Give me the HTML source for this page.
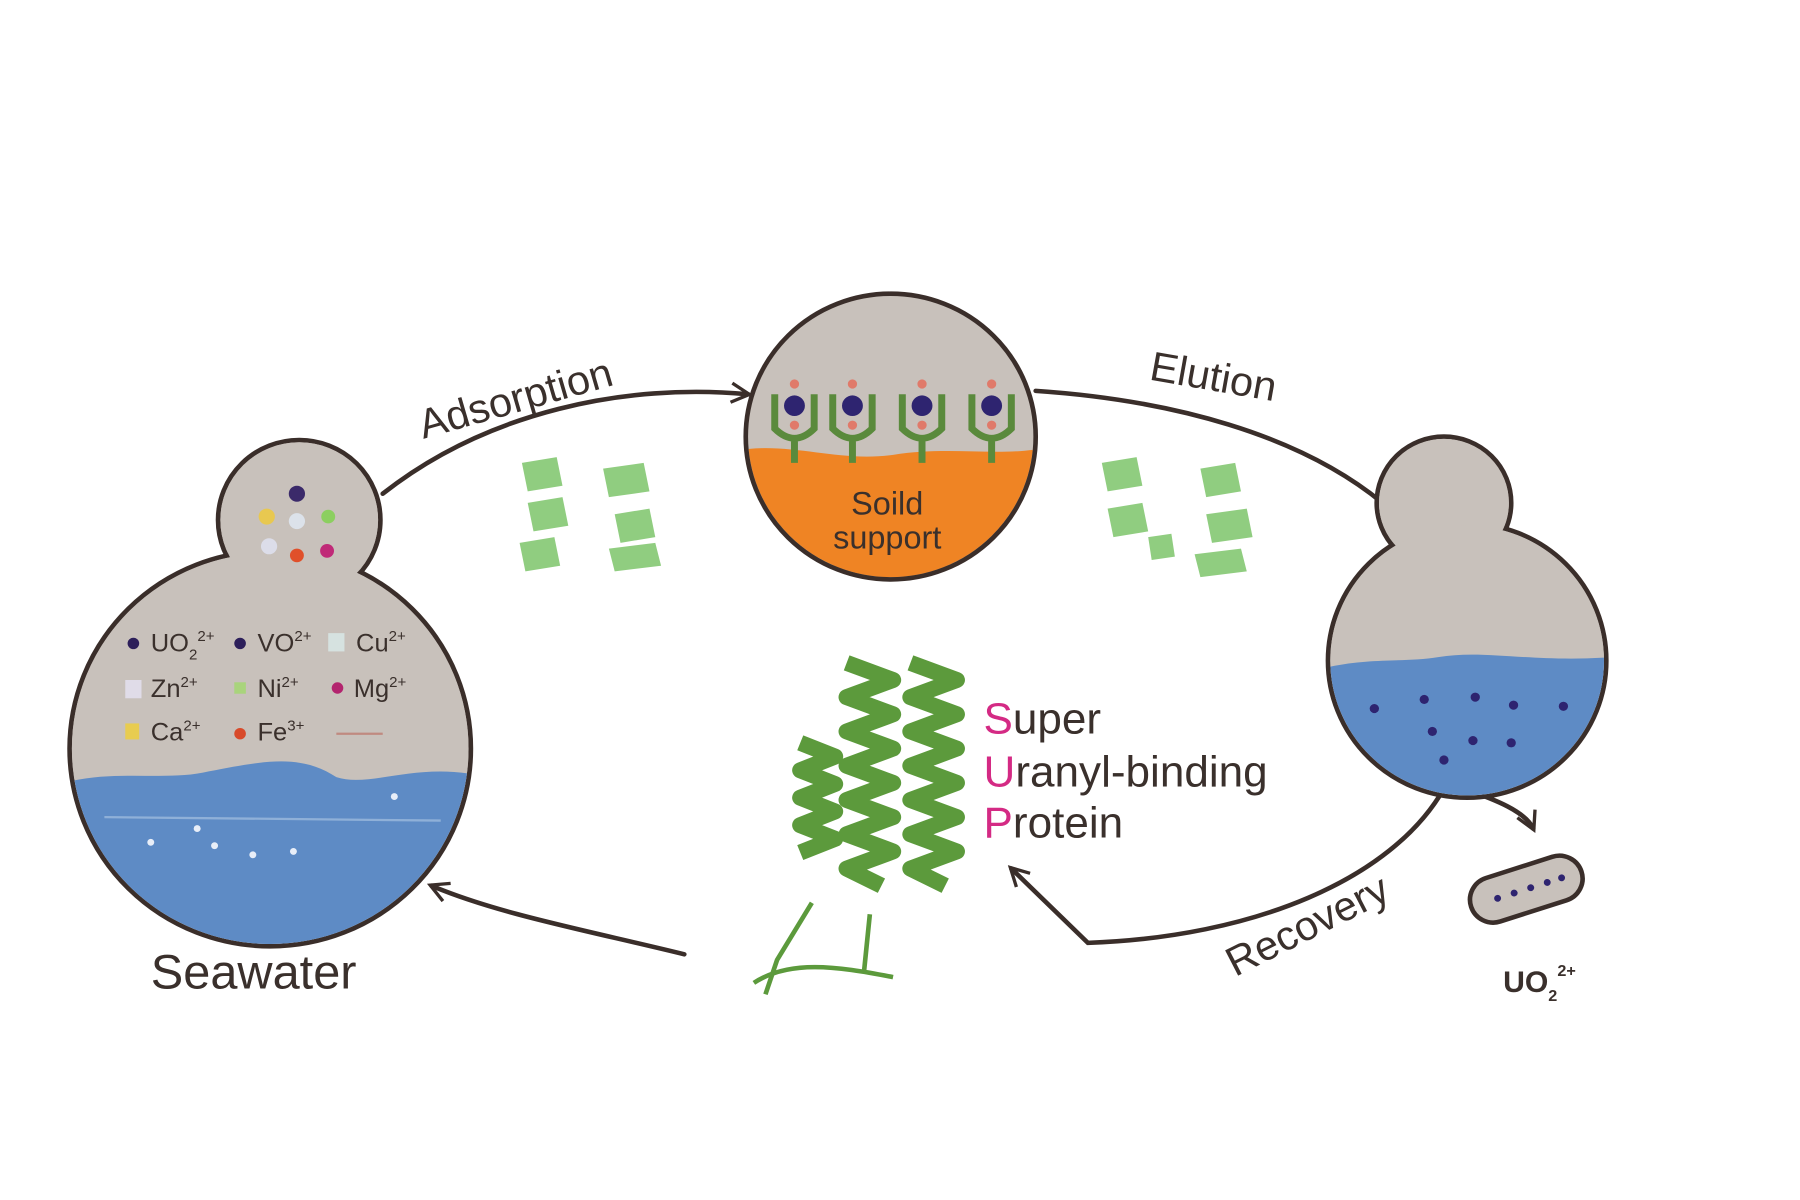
<!DOCTYPE html>
<html><head><meta charset="utf-8"><style>
html,body{margin:0;padding:0;background:#fff;}
svg{display:block;}
text{font-family:"Liberation Sans",sans-serif;fill:#3a302c;}
</style></head><body>
<svg width="1800" height="1200" viewBox="0 0 1552 1050" preserveAspectRatio="none" xmlns="http://www.w3.org/2000/svg">
<defs>
<marker id="ah" viewBox="0 0 20 20" refX="15" refY="10" markerWidth="24" markerHeight="24" orient="auto" markerUnits="userSpaceOnUse">
<path d="M3,3 L16,10 L3,17" fill="none" stroke="#3a2e2a" stroke-width="2.4"/></marker>
<clipPath id="cL"><circle cx="233" cy="655" r="171"/></clipPath>
<clipPath id="cM"><circle cx="768" cy="382" r="123"/></clipPath>
<clipPath id="cR"><circle cx="1265" cy="578" r="118"/></clipPath>
</defs>
<rect width="1552" height="1050" fill="#fff"/>

<g fill="none" stroke="#3a2e2a" stroke-width="4" stroke-linecap="round">
<path d="M330,432 C420,360 540,335 645,345" marker-end="url(#ah)"/>
<path d="M893,342 C1010,350 1120,380 1192,440"/>
<path d="M1245,690 C1200,770 1080,820 938,825 L872,760" marker-end="url(#ah)"/>
<path d="M1262,690 C1290,700 1315,710 1322,725" marker-end="url(#ah)"/>
<path d="M590,835 C510,815 430,800 372,775" marker-end="url(#ah)"/>
</g>

<!-- left flask -->
<circle cx="258" cy="455" r="70" fill="#c8c1bb" stroke="#3a2e2a" stroke-width="4"/>
<circle cx="233" cy="655" r="173" fill="#c8c1bb" stroke="#3a2e2a" stroke-width="4"/>
<circle cx="258" cy="455" r="68" fill="#c8c1bb"/>
<circle cx="233" cy="655" r="171" fill="#c8c1bb"/>
<g clip-path="url(#cL)">
<path d="M40,690 C90,670 140,685 180,675 C230,665 260,660 290,680 C320,690 360,665 420,680 L420,840 L40,840 Z" fill="#5e8bc5"/>
<line x1="90" y1="715" x2="380" y2="718" stroke="#8fb0d8" stroke-width="2"/>
</g>
<g>
<circle cx="256" cy="432" r="7" fill="#3b2a6a"/><circle cx="230" cy="452" r="7" fill="#e8c850"/>
<circle cx="283" cy="452" r="6" fill="#8ccf60"/><circle cx="256" cy="456" r="7" fill="#dce2ea"/>
<circle cx="232" cy="478" r="7" fill="#dcdde9"/><circle cx="256" cy="486" r="6" fill="#e0502a"/><circle cx="282" cy="482" r="6" fill="#c02a78"/>
</g>
<g font-size="22">
<circle cx="115" cy="563" r="5" fill="#2d1f5a"/><text x="130" y="570">UO<tspan font-size="13" dy="7">2</tspan><tspan font-size="13" dy="-16">2+</tspan></text>
<circle cx="207" cy="563" r="5" fill="#2d1f5a"/><text x="222" y="570">VO<tspan font-size="13" dy="-9">2+</tspan></text>
<rect x="283" y="554" width="14" height="16" fill="#d6e2e0"/><text x="307" y="570">Cu<tspan font-size="13" dy="-9">2+</tspan></text>
<rect x="108" y="595" width="14" height="16" fill="#e0dce8"/><text x="130" y="610">Zn<tspan font-size="13" dy="-9">2+</tspan></text>
<rect x="202" y="597" width="10" height="10" fill="#a9d47c"/><text x="222" y="610">Ni<tspan font-size="13" dy="-9">2+</tspan></text>
<circle cx="291" cy="602" r="5" fill="#b3246e"/><text x="305" y="610">Mg<tspan font-size="13" dy="-9">2+</tspan></text>
<rect x="108" y="633" width="12" height="14" fill="#e8cc50"/><text x="130" y="648">Ca<tspan font-size="13" dy="-9">2+</tspan></text>
<circle cx="207" cy="642" r="5" fill="#d84a2a"/><text x="222" y="648">Fe<tspan font-size="13" dy="-9">3+</tspan></text>
<line x1="290" y1="642" x2="330" y2="642" stroke="#c08a80" stroke-width="2"/>
</g>
<g fill="#e8eef8"><circle cx="170" cy="725" r="3"/><circle cx="185" cy="740" r="3"/><circle cx="130" cy="737" r="3"/><circle cx="218" cy="748" r="3"/><circle cx="253" cy="745" r="3"/><circle cx="340" cy="697" r="3"/></g>
<text x="130" y="865" font-size="42">Seawater</text>

<!-- middle circle -->
<circle cx="768" cy="382" r="125" fill="#c8c1bb"/>
<g clip-path="url(#cM)">
<path d="M630,395 C680,385 720,405 770,398 C820,390 860,400 900,392 L900,520 L630,520 Z" fill="#ef8424"/>
<g fill="none" stroke="#5a8a3c" stroke-width="6">
<path d="M668,345 L668,375 Q685,392 702,375 L702,345 M685,385 L685,405"/>
<path d="M718,345 L718,375 Q735,392 752,375 L752,345 M735,385 L735,405"/>
<path d="M778,345 L778,375 Q795,392 812,375 L812,345 M795,385 L795,405"/>
<path d="M838,345 L838,375 Q855,392 872,375 L872,345 M855,385 L855,405"/>
</g>
<g fill="#2e2470"><circle cx="685" cy="355" r="9"/><circle cx="735" cy="355" r="9"/><circle cx="795" cy="355" r="9"/><circle cx="855" cy="355" r="9"/></g>
<g fill="#e07a6a"><circle cx="685" cy="336" r="4"/><circle cx="735" cy="336" r="4"/><circle cx="795" cy="336" r="4"/><circle cx="855" cy="336" r="4"/><circle cx="685" cy="372" r="4"/><circle cx="735" cy="372" r="4"/><circle cx="795" cy="372" r="4"/><circle cx="855" cy="372" r="4"/></g>
</g>
<circle cx="768" cy="382" r="125" fill="none" stroke="#3a2e2a" stroke-width="4"/>
<text x="765" y="450" font-size="28" text-anchor="middle">Soild</text>
<text x="765" y="480" font-size="28" text-anchor="middle">support</text>

<!-- right flask -->
<circle cx="1245" cy="440" r="58" fill="#c8c1bb" stroke="#3a2e2a" stroke-width="4"/>
<circle cx="1265" cy="578" r="120" fill="#c8c1bb" stroke="#3a2e2a" stroke-width="4"/>
<circle cx="1245" cy="440" r="56" fill="#c8c1bb"/>
<circle cx="1265" cy="578" r="118" fill="#c8c1bb"/>
<g clip-path="url(#cR)">
<path d="M1140,585 C1180,575 1210,580 1240,575 C1280,568 1320,580 1390,575 L1390,700 L1140,700 Z" fill="#5e8bc5"/>
<g fill="#2e2470">
<circle cx="1185" cy="620" r="4"/><circle cx="1228" cy="612" r="4"/><circle cx="1272" cy="610" r="4"/><circle cx="1305" cy="617" r="4"/><circle cx="1348" cy="618" r="4"/>
<circle cx="1235" cy="640" r="4"/><circle cx="1270" cy="648" r="4"/><circle cx="1303" cy="650" r="4"/><circle cx="1245" cy="665" r="4"/>
</g>
</g>

<g transform="rotate(-18 1316 778)"><rect x="1266" y="758" width="100" height="40" rx="20" fill="#c8c1bb" stroke="#3a2e2a" stroke-width="4"/>
<g fill="#2e2470"><circle cx="1290" cy="778" r="3"/><circle cx="1305" cy="778" r="3"/><circle cx="1320" cy="778" r="3"/><circle cx="1335" cy="778" r="3"/><circle cx="1348" cy="778" r="3"/></g></g>
<text x="1296" y="868" font-size="26" font-weight="bold">UO<tspan font-size="14" dy="8">2</tspan><tspan font-size="14" dy="-22">2+</tspan></text>

<text x="0" y="0" font-size="36" transform="translate(365,384) rotate(-16)">Adsorption</text>
<text x="0" y="0" font-size="36" transform="translate(990,332) rotate(10)">Elution</text>
<text x="0" y="0" font-size="36" transform="translate(1065,855) rotate(-27)">Recovery</text>
<g font-size="38">
<text x="848" y="642"><tspan fill="#d42a84">S</tspan>uper</text>
<text x="848" y="688"><tspan fill="#d42a84">U</tspan>ranyl-binding</text>
<text x="848" y="733"><tspan fill="#d42a84">P</tspan>rotein</text>
</g>

<g fill="#7cc46a" opacity="0.85">
<path d="M450,405 l30,-5 l5,25 l-30,5 z M455,440 l30,-5 l5,25 l-30,5z M448,475 l30,-5 l5,25 l-30,5z M520,410 l35,-5 l5,25 l-35,5z M530,450 l30,-5 l5,25 l-30,5z M525,480 l40,-5 l5,20 l-40,5z"/>
<path d="M950,405 l30,-5 l5,25 l-30,5z M955,445 l30,-5 l5,25 l-30,5z M1035,410 l30,-5 l5,25 l-30,5z M1040,450 l35,-5 l5,25 l-35,5z M1030,485 l40,-5 l5,20 l-40,5z M990,470 l20,-3 l3,20 l-20,3z"/>
</g>
<g fill="none" stroke="#5c9a3c" stroke-width="14" stroke-linejoin="round">
<path d="M730,580 l40,15 l-40,15 l40,15 l-40,15 l40,15 l-40,15 l40,15 l-40,15 l40,15 l-40,15 l40,15 l-40,15 l30,15"/>
<path d="M785,580 l40,15 l-40,15 l40,15 l-40,15 l40,15 l-40,15 l40,15 l-40,15 l40,15 l-40,15 l40,15 l-40,15 l30,15"/>
<path d="M690,650 l30,12 l-30,12 l30,12 l-30,12 l30,12 l-30,12 l30,12 l-30,12"/>
</g>
<g fill="none" stroke="#5c9a3c" stroke-width="4">
<path d="M650,860 C680,840 720,845 770,855"/>
<path d="M700,790 L670,840 L660,870 M750,800 L745,850"/>
</g>
</svg>
</body></html>
